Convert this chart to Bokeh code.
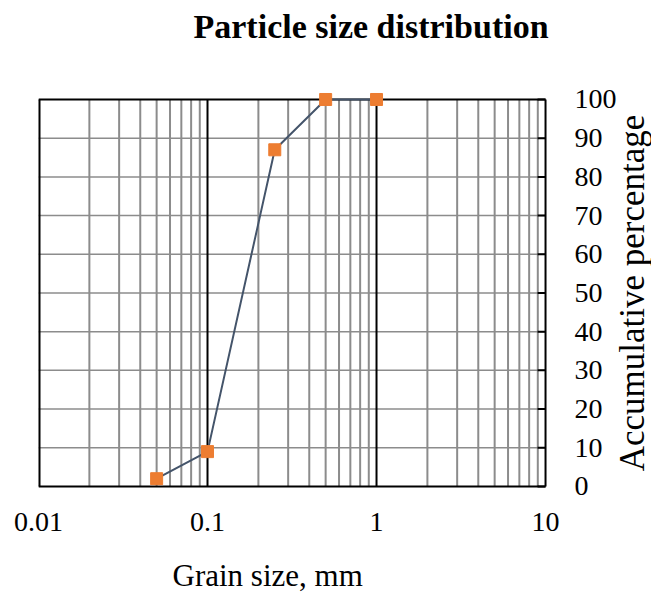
import math
from bokeh.plotting import figure
from bokeh.models import Title, Range1d, LogTicker
from bokeh.core.properties import value
from bokeh.embed import file_html
from bokeh.resources import INLINE

grain_size = [0.05, 0.1, 0.25, 0.5, 1.0]
cum_percent = [2, 9, 87, 100, 100]
x_ticks = [0.01, 0.1, 1, 10]
y_ticks = list(range(0, 101, 10))
y_tick_labels = [str(t) for t in y_ticks]
decades = [0.01, 0.1, 1]
minor_steps = [2, 3, 4, 5, 6, 7, 8, 9]

FONT = "Liberation Serif"
X_MIN, X_MAX = x_ticks[0], x_ticks[-1]
Y_MIN, Y_MAX = y_ticks[0], y_ticks[-1]

# frame extends beyond the plot box (right, above, below) so texts are not clipped
p = figure(width=651, height=597, x_axis_type="log", y_axis_location=None,
           x_range=Range1d(X_MIN, 10 ** 1.627), y_range=Range1d(Y_MIN - 2.6, Y_MAX + 6.2),
           output_backend="svg", toolbar_location=None,
           min_border_left=38, min_border_right=0, min_border_top=75, min_border_bottom=100)
p.title = None
p.outline_line_color = None

# title (with spacer)
p.add_layout(Title(text=" ", text_font_size="12px"), "above")
p.add_layout(Title(text="Particle size distribution", align="left", offset=155,
                   text_font=FONT, text_font_size="34px", text_font_style="bold",
                   text_color="black"), "above")

# horizontal grid lines
h_y = y_ticks[1:-1]
p.segment(x0=[X_MIN] * len(h_y), y0=h_y, x1=[X_MAX] * len(h_y), y1=h_y,
          line_color="#8c8c8c", line_width=1.5)
# vertical grid lines
minor_x = [k * d for d in decades for k in minor_steps]
major_x = x_ticks[1:-1]
p.segment(x0=minor_x, y0=[Y_MIN] * len(minor_x), x1=minor_x, y1=[Y_MAX] * len(minor_x),
          line_color="#8c8c8c", line_width=2)
p.segment(x0=major_x, y0=[Y_MIN] * len(major_x), x1=major_x, y1=[Y_MAX] * len(major_x),
          line_color="black", line_width=2)
# box border: left, top, right, bottom
p.segment(x0=[X_MIN, X_MIN, X_MAX, X_MIN], y0=[Y_MIN, Y_MAX, Y_MIN, Y_MIN],
          x1=[X_MIN, X_MAX, X_MAX, X_MAX], y1=[Y_MAX, Y_MAX, Y_MAX, Y_MIN],
          line_color="black", line_width=[4, 2, 2, 2])
# right-hand inward tick marks
p.ray(x=[X_MAX] * len(y_ticks), y=y_ticks, length=8, length_units="screen",
      angle=math.pi, line_color="black", line_width=2)

p.line(grain_size, cum_percent, line_color="#44546A", line_width=2)
p.scatter(grain_size, cum_percent, marker="square", size=12,
          fill_color="#ED7D31", line_color="#ED7D31")

# right-hand tick labels
p.text(x=[X_MAX] * len(y_ticks), y=y_ticks, text=y_tick_labels, x_offset=29,
       text_align="left", text_baseline="middle",
       text_font=value(FONT), text_font_size=value("28px"), text_color="black")
# y-axis title, reading bottom-to-top
p.text(x=[X_MAX], y=[(Y_MIN + Y_MAX) / 2], text=["Accumulative percentage"],
       x_offset=87, angle=math.pi / 2, text_align="center", text_baseline="middle",
       text_font=value(FONT), text_font_size=value("35px"), text_color="black")

xa = p.xaxis[0]
xa.ticker = LogTicker(num_minor_ticks=10)
xa.major_label_overrides = {0.01: "0.01", 0.1: "0.1", 1: "1", 10: "10"}
xa.axis_line_color = None
xa.major_tick_line_color = None
xa.minor_tick_line_color = None
xa.major_label_text_font = FONT
xa.major_label_text_font_size = "28px"
xa.major_label_text_color = "black"
xa.major_label_standoff = 10

p.add_layout(Title(text=" ", text_font_size="4px"), "below")
p.add_layout(Title(text="Grain size, mm", align="left", offset=134,
                   text_font=FONT, text_font_size="31px", text_font_style="normal",
                   text_color="black"), "below")

p.xgrid.visible = False
p.ygrid.visible = False

open("out.html", "w").write(file_html(p, INLINE))
